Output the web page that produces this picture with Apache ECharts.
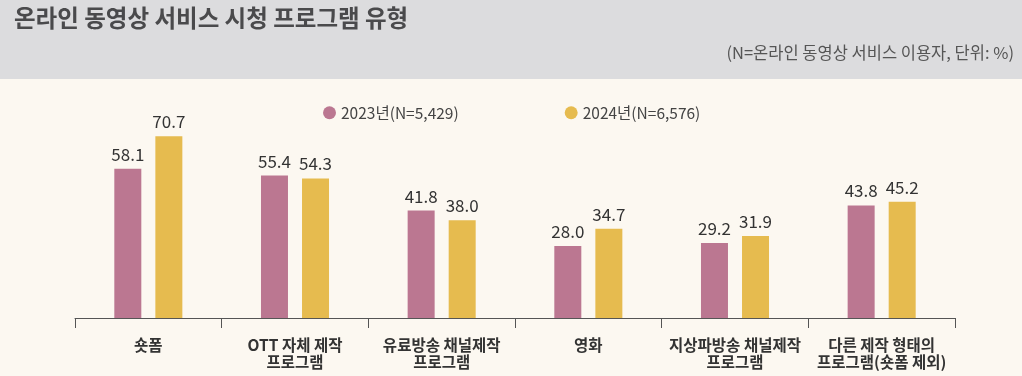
<!DOCTYPE html>
<html>
<head>
<meta charset="utf-8">
<script src="https://cdn.jsdelivr.net/npm/echarts@6/dist/echarts.min.js"></script>
<style>
  html, body { margin: 0; padding: 0; background: #fcf8f1; }
  #chart { width: 1022px; height: 376px; }
</style>
</head>
<body>
<div id="chart"></div>
<script>
const categories = [
  '숏폼',
  'OTT 자체 제작\n프로그램',
  '유료방송 채널제작\n프로그램',
  '영화',
  '지상파방송 채널제작\n프로그램',
  '다른 제작 형태의\n프로그램(숏폼 제외)'
];
const values2023 = [58.1, 55.4, 41.8, 28.0, 29.2, 43.8];
const values2024 = [70.7, 54.3, 38.0, 34.7, 31.9, 45.2];
const seriesNames = ['2023년(N=5,429)', '2024년(N=6,576)'];

const font = '"Noto Sans CJK KR", "Noto Sans", sans-serif';
const chart = echarts.init(document.getElementById('chart'));

chart.setOption({
  backgroundColor: '#fcf8f1',
  textStyle: { fontFamily: font },
  graphic: [
    {
      type: 'rect',
      z: -10,
      shape: { x: 0, y: 0, width: 1022, height: 79 },
      style: { fill: '#dcdcde' }
    },
    {
      type: 'text',
      left: 14,
      top: 6,
      style: { text: '온라인 동영상 서비스 시청 프로그램 유형', font: 'bold 23.5px ' + font, fill: '#4a4a4c' }
    },
    {
      type: 'text',
      right: 8,
      top: 44,
      style: { text: '(N=온라인 동영상 서비스 이용자, 단위: %)', font: '16.5px ' + font, fill: '#555' }
    }
  ],
  legend: {
    data: seriesNames,
    top: 100,
    left: 318,
    icon: 'circle',
    itemWidth: 13,
    itemHeight: 13,
    itemGap: 106,
    textStyle: { fontSize: 15.5, color: '#444', fontFamily: font }
  },
  grid: { left: 75, right: 67, top: 61, bottom: 58 },
  xAxis: {
    type: 'category',
    data: categories,
    axisLine: { lineStyle: { color: '#555', width: 1 } },
    axisTick: { show: true, length: 10, lineStyle: { color: '#555' } },
    axisLabel: {
      interval: 0,
      margin: 19,
      fontSize: 15.5,
      fontWeight: 'bold',
      lineHeight: 17,
      color: '#333'
    }
  },
  yAxis: {
    type: 'value',
    min: 0,
    max: 100,
    show: false,
    splitLine: { show: false }
  },
  series: [
    {
      name: seriesNames[0],
      type: 'bar',
      data: values2023,
      barWidth: 27,
      barGap: '52%',
      itemStyle: { color: '#bb7791' },
      label: { show: true, position: 'top', distance: 6, fontSize: 17, color: '#333', formatter: p => p.value.toFixed(1) }
    },
    {
      name: seriesNames[1],
      type: 'bar',
      data: values2024,
      barWidth: 27,
      itemStyle: { color: '#e6bb4f' },
      label: { show: true, position: 'top', distance: 6, fontSize: 17, color: '#333', formatter: p => p.value.toFixed(1) }
    }
  ]
});
</script>
</body>
</html>
